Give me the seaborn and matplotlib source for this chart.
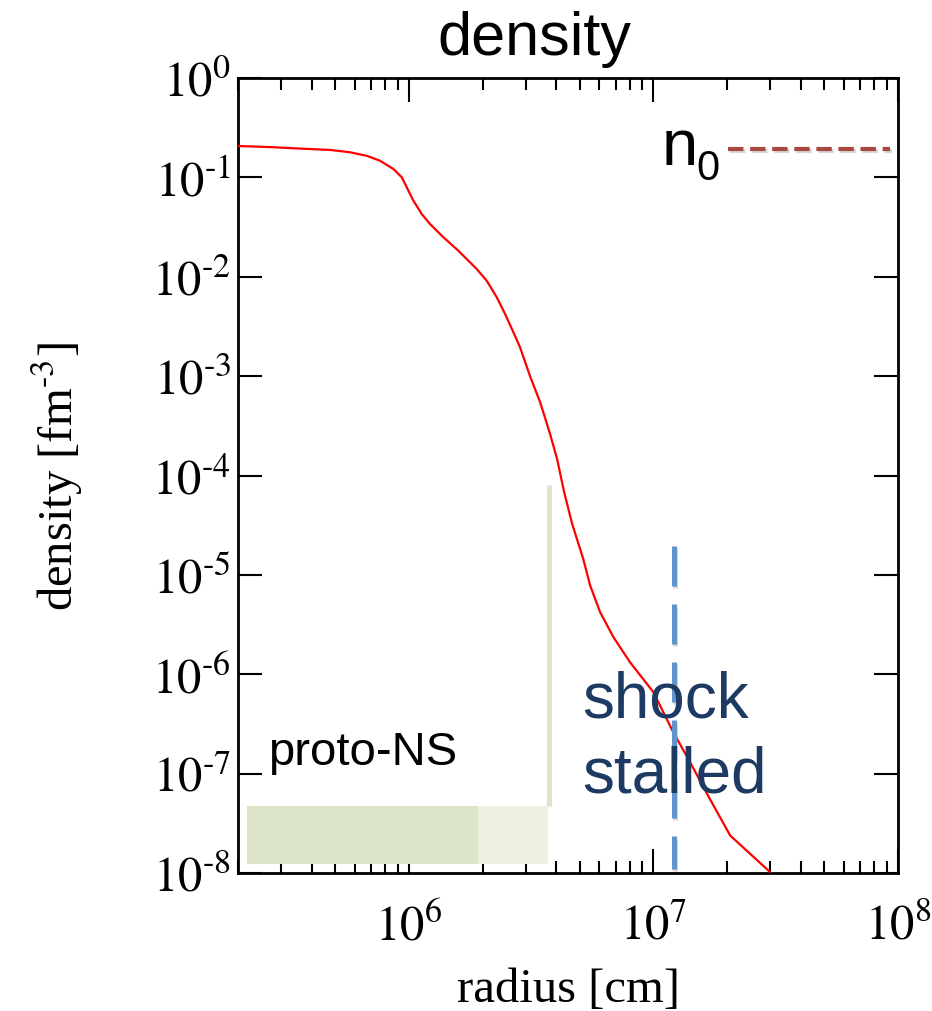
#!/usr/bin/env python3
"""Density profile of a stalled-shock supernova core (log-log)."""

import numpy as np
import pandas as pd

import matplotlib
matplotlib.use("Agg")
import matplotlib.pyplot as plt
import matplotlib.patheffects as pe
from matplotlib.patches import Rectangle
from matplotlib.ticker import LogLocator, NullLocator, NullFormatter, FuncFormatter
import seaborn as sns


# red density profile
radius_cm = [2.00e5, 2.70e5, 3.59e5, 4.76e5, 5.74e5, 6.72e5, 7.62e5, 8.64e5,
             9.35e5, 9.95e5, 1.043e6, 1.128e6, 1.219e6, 1.383e6, 1.592e6, 1.893e6,
             2.080e6, 2.286e6, 2.472e6, 2.673e6, 2.847e6, 3.128e6, 3.437e6, 3.777e6,
             4.035e6, 4.31e6, 4.65e6, 5.16e6, 5.51e6, 6.05e6, 6.86e6, 8.02e6,
             9.99e6, 1.205e7, 1.41e7, 1.70e7, 2.06e7, 3.00e7]
density_fm3 = [0.207, 0.202, 0.195, 0.189, 0.179, 0.165, 0.147, 0.1215,
               0.1002, 0.0735, 0.0582, 0.0428, 0.0340, 0.0250, 0.0183, 0.01197,
               9.12e-3, 6.22e-3, 4.23e-3, 2.77e-3, 1.95e-3, 1.00e-3, 5.50e-4, 2.62e-4,
               1.47e-4, 6.84e-5, 3.26e-5, 1.45e-5, 7.80e-6, 4.22e-6, 2.36e-6, 1.32e-6,
               6.61e-7, 2.61e-7, 1.31e-7, 5.57e-8, 2.38e-8, 1.02e-8]

# saturation density marker
n0_value = 0.193
n0_span = [2.02e7, 9.3e7]

# stalled shock position
shock_radius = 1.21e7
shock_span = [1.96e-5, 1.1e-8]

# proto-neutron star bars
pns_core = [2.18e5, 1.92e6]
pns_edge = [1.92e6, 3.71e6]
pns_bar_y = [1.24e-8, 4.74e-8]
pns_line_x = 3.74e6
pns_line_y = [4.74e-8, 8.0e-5]

XLIM = (2.0e5, 1.0e8)
YLIM = (1e-8, 1.0)

HYPHEN = "\u2010"


def pow10_label(v, pos):
    k = int(round(np.log10(v)))
    exp = f"{HYPHEN}{abs(k)}" if k < 0 else f"{k}"
    return f"$10^{{{exp}}}$"


def main() -> None:
    sns.set_theme(style="ticks")
    plt.rcParams.update({
        "font.family": ["Liberation Serif", "DejaVu Serif"],
        "mathtext.fontset": "stix",
        "figure.facecolor": "white",
        "axes.facecolor": "white",
        "text.color": "black",
        "axes.labelcolor": "black",
        "xtick.color": "black",
        "ytick.color": "black",
    })

    fig = plt.figure(figsize=(9.32, 10.12), dpi=100)
    ax = fig.add_axes([0.2554, 0.1364, 0.7081, 0.7855])
    ax.set_xscale("log")
    ax.set_yscale("log")

    # proto-NS shading
    green = "#dde5c8"
    ax.add_patch(Rectangle((pns_core[0], pns_bar_y[0]), pns_core[1] - pns_core[0],
                           pns_bar_y[1] - pns_bar_y[0], color=green, lw=0, zorder=1))
    ax.add_patch(Rectangle((pns_edge[0], pns_bar_y[0]), pns_edge[1] - pns_edge[0],
                           pns_bar_y[1] - pns_bar_y[0], color="#ecf0e2", lw=0, zorder=1))
    ax.plot([pns_line_x, pns_line_x], pns_line_y, color=green, lw=3.6,
            solid_capstyle="butt", zorder=1)

    df = pd.DataFrame({"radius": radius_cm, "density": density_fm3})
    sns.lineplot(data=df, x="radius", y="density", ax=ax, color="red", lw=1.6,
                 zorder=3)

    shadow = [pe.SimpleLineShadow(offset=(1, -1.5), shadow_color="0.55", alpha=0.35),
              pe.Normal()]
    ax.plot([shock_radius, shock_radius], shock_span, color="#6094cb", lw=3.6,
            linestyle=(0, (8.0, 3.6)), solid_capstyle="butt", dash_capstyle="butt",
            path_effects=shadow, zorder=4)
    ax.plot(n0_span, [n0_value, n0_value], color="#a8493f", lw=3.0,
            linestyle=(0, (3.7, 1.6)), dash_capstyle="butt",
            path_effects=shadow, zorder=4)

    sans = ["Liberation Sans", "DejaVu Sans"]
    ax.text(0.642, 0.892, "n", transform=ax.transAxes, family=sans, fontsize=47,
            ha="left", va="baseline")
    ax.text(0.695, 0.873, "0", transform=ax.transAxes, family=sans, fontsize=30,
            ha="left", va="baseline")
    ax.text(0.521, 0.197, "shock", transform=ax.transAxes, family=sans, fontsize=46,
            color="#1d3a63", ha="left", va="baseline", zorder=5)
    ax.text(0.521, 0.102, "stalled", transform=ax.transAxes, family=sans, fontsize=46,
            color="#1d3a63", ha="left", va="baseline", zorder=5)
    ax.text(0.045, 0.137, "proto-NS", transform=ax.transAxes, family=sans, fontsize=34,
            ha="left", va="baseline")

    ax.set_xlim(*XLIM)
    ax.set_ylim(*YLIM)
    ax.xaxis.set_major_locator(LogLocator(base=10, numticks=10))
    ax.xaxis.set_minor_locator(LogLocator(base=10, subs=np.arange(2, 10), numticks=20))
    ax.xaxis.set_minor_formatter(NullFormatter())
    ax.xaxis.set_major_formatter(FuncFormatter(pow10_label))
    ax.yaxis.set_major_locator(LogLocator(base=10, numticks=20))
    ax.yaxis.set_minor_locator(NullLocator())
    ax.yaxis.set_major_formatter(FuncFormatter(pow10_label))

    ax.tick_params(which="both", direction="in", top=True, right=True,
                   color="black", width=1.5)
    ax.tick_params(which="major", length=17, labelsize=35)
    ax.tick_params(which="minor", length=8.5)
    ax.tick_params(axis="x", which="major", pad=22)
    ax.tick_params(axis="y", which="major", pad=5)
    for sp in ax.spines.values():
        sp.set_linewidth(2)
        sp.set_color("black")

    ax.set_xlabel("radius [cm]", fontsize=35)
    ax.set_ylabel(f"density [fm$^{{{HYPHEN}3}}$]", fontsize=35)
    ax.xaxis.set_label_coords(0.5, -0.118)
    ax.yaxis.set_label_coords(-0.232, 0.5)

    fig.text(0.573, 0.9457, "density", family=sans, fontsize=44,
             ha="center", va="baseline")

    fig.savefig("out.png", dpi=100, facecolor="white")
    plt.close(fig)


if __name__ == "__main__":
    main()
